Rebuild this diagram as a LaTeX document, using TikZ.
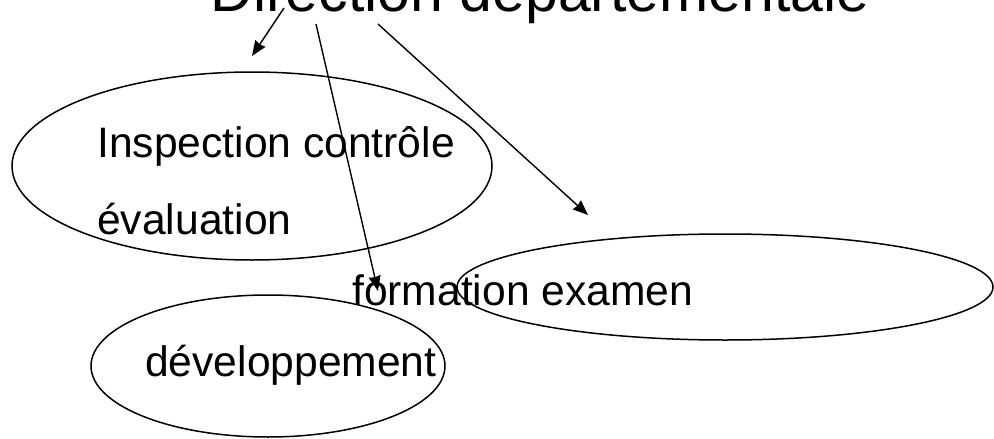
\documentclass[tikz,border=0pt]{standalone}
\usepackage{fontspec}
\setmainfont{Liberation Sans}
\usetikzlibrary{shapes.geometric,arrows.meta}
\begin{document}
\begin{tikzpicture}[x=1pt,y=-1pt,
  oval/.style={draw,ellipse,line width=1.5pt,inner sep=0pt},
  lbl/.style={anchor=base west,inner sep=0pt,font=\fontsize{42.6}{50}\selectfont},
  ttl/.style={anchor=base east,inner sep=0pt,font=\fontsize{59}{66}\selectfont},
  arr/.style={line width=1.4pt,-{Stealth[length=15pt,width=12pt,inset=1pt]}}]
\useasboundingbox (0,0) rectangle (994,439);
\clip (0,0) rectangle (994,439);
\node[oval,minimum width=480pt,minimum height=188pt] (e1) at (252,166) {};
\node[oval,minimum width=536pt,minimum height=106pt] (e2) at (725,287) {};
\node[oval,minimum width=354pt,minimum height=142pt] (e3) at (268,366) {};
\node[ttl] (title) at (870,12) {Direction départementale};
\node[lbl] (t1) at (97,157) {Inspection contrôle};
\node[lbl] (t2) at (97,234) {évaluation};
\node[lbl] (t3) at (352,305) {formation examen};
\node[lbl] (t4) at (145,376) {développement};
\coordinate (s1) at (284,8);
\coordinate (s2) at (316,24);
\coordinate (s3) at (378,24);
\coordinate (a1) at (252,56);
\coordinate (a2) at (378,291);
\coordinate (a3) at (588,215);
\draw[arr] (s1) -- (a1);
\draw[arr] (s2) -- (a2);
\draw[arr] (s3) -- (a3);
\end{tikzpicture}
\end{document}
